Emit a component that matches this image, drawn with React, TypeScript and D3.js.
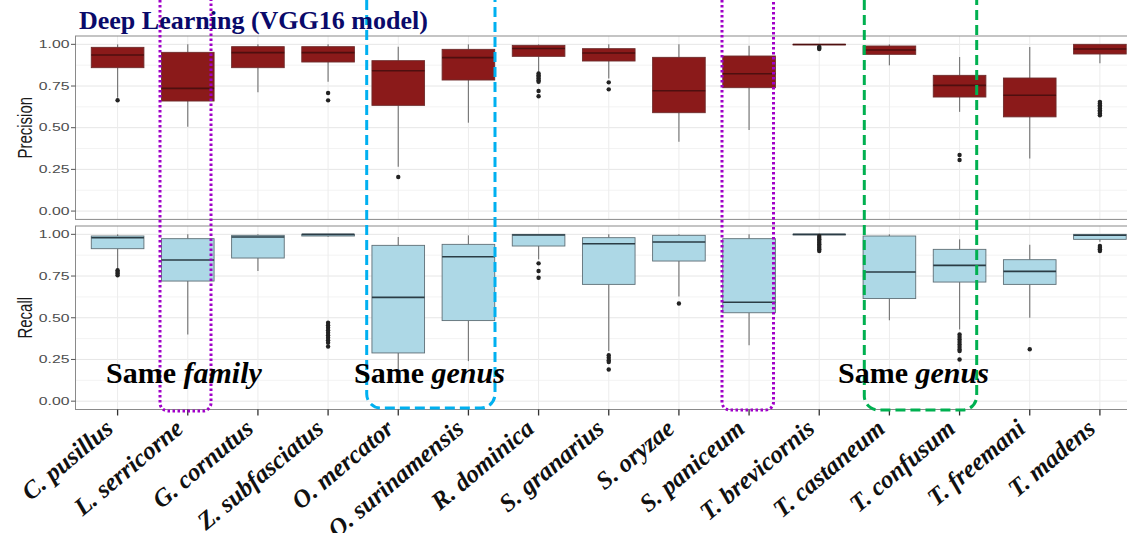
import * as d3 from "d3";

const species = [
  "C. pusillus", "L. serricorne", "G. cornutus", "Z. subfasciatus", "O. mercator",
  "O. surinamensis", "R. dominica", "S. granarius", "S. oryzae", "S. paniceum",
  "T. brevicornis", "T. castaneum", "T. confusum", "T. freemani", "T. madens",
];

// precision boxes (whisker low, q1, median, q3, whisker high)
const precisionLow = [0.68, 0.506, 0.712, 0.776, 0.266, 0.53, 0.834, 0.795, 0.416, 0.486, 0.99, 0.874, 0.595, 0.316, 0.886];
const precisionQ1 = [0.86, 0.66, 0.86, 0.894, 0.634, 0.786, 0.928, 0.9, 0.59, 0.74, 0.997, 0.94, 0.684, 0.565, 0.942];
const precisionMedian = [0.936, 0.736, 0.95, 0.95, 0.842, 0.92, 0.975, 0.948, 0.722, 0.824, 0.999, 0.966, 0.754, 0.695, 0.972];
const precisionQ3 = [0.982, 0.952, 0.986, 0.986, 0.902, 0.97, 0.994, 0.974, 0.922, 0.93, 1.0, 0.99, 0.814, 0.798, 1.0];
const precisionHigh = [1.0, 1.0, 1.0, 1.0, 0.986, 1.0, 1.0, 1.0, 1.0, 0.992, 1.0, 1.0, 0.924, 0.984, 1.0];
const precisionOutliers = [
  [0.665], [], [], [0.708, 0.664], [0.204], [],
  [0.825, 0.815, 0.805, 0.795, 0.785, 0.775, 0.72, 0.689],
  [0.772, 0.73], [], [], [0.985, 0.978, 0.972], [], [0.336, 0.306], [],
  [0.655, 0.645, 0.635, 0.625, 0.615, 0.605, 0.595, 0.585, 0.575],
];

// recall boxes
const recallLow = [0.79, 0.4, 0.78, 0.986, 0.19, 0.24, 0.85, 0.3, 0.627, 0.335, 0.996, 0.485, 0.43, 0.5, 0.955];
const recallQ1 = [0.914, 0.72, 0.858, 0.99, 0.289, 0.483, 0.93, 0.7, 0.84, 0.53, 1.0, 0.615, 0.714, 0.7, 0.97];
const recallMedian = [0.98, 0.846, 0.984, 1.0, 0.622, 0.866, 0.996, 0.944, 0.954, 0.593, 1.0, 0.774, 0.814, 0.778, 0.995];
const recallQ3 = [0.99, 0.974, 0.994, 1.0, 0.934, 0.94, 1.0, 0.98, 0.994, 0.974, 1.0, 0.99, 0.91, 0.848, 1.0];
const recallHigh = [1.0, 1.0, 1.0, 1.0, 0.984, 0.994, 1.0, 1.0, 1.0, 1.0, 1.0, 1.0, 0.97, 0.938, 1.0];
const recallOutliers = [
  [0.785, 0.775, 0.765, 0.755], [], [],
  [0.47, 0.455, 0.44, 0.425, 0.41, 0.395, 0.38, 0.365, 0.35, 0.327],
  [], [], [0.826, 0.78, 0.74],
  [0.275, 0.26, 0.245, 0.235, 0.19], [0.585], [],
  [0.99, 0.98, 0.97, 0.96, 0.95, 0.94, 0.93, 0.92, 0.91, 0.9],
  [], [0.4, 0.385, 0.37, 0.355, 0.34, 0.325, 0.31, 0.3, 0.25], [0.311],
  [0.93, 0.92, 0.91, 0.9],
];

const yTicks = [0, 0.25, 0.5, 0.75, 1];
const yMinor = [0.125, 0.375, 0.625, 0.875];

const x = d3.scalePoint<string>().domain(species).range([75.5, 1142]).padding(0.6);
const boxW = x.step() * 0.75;

function Panel(props: any) {
  const { top, bottom, label, low, q1, med, q3, high, outliers, fill, stroke, medColor } = props;
  const y = d3.scaleLinear().domain([-0.05, 1.05]).range([bottom, top]);
  const [x0, x1] = x.range();
  return (
    <g>
      <rect x={x0} y={top} width={x1 - x0} height={bottom - top} fill="#fff" />
      {yMinor.map((t) => (
        <line key={"m" + t} x1={x0} x2={x1} y1={y(t)} y2={y(t)} stroke="#f3f3f3" strokeWidth={1} />
      ))}
      {yTicks.map((t) => (
        <line key={"g" + t} x1={x0} x2={x1} y1={y(t)} y2={y(t)} stroke="#e6e6e6" strokeWidth={1} />
      ))}
      {species.map((s) => (
        <line key={"v" + s} x1={x(s)} x2={x(s)} y1={top} y2={bottom} stroke="#ececec" strokeWidth={1} />
      ))}
      {species.map((s, i) => {
        const cx = x(s) as number;
        return (
          <g key={s}>
            <line x1={cx} x2={cx} y1={y(high[i])} y2={y(q3[i])} stroke="#7a7a7a" strokeWidth={1.2} />
            <line x1={cx} x2={cx} y1={y(q1[i])} y2={y(low[i])} stroke="#7a7a7a" strokeWidth={1.2} />
            <rect x={cx - boxW / 2} y={y(q3[i])} width={boxW} height={Math.max(y(q1[i]) - y(q3[i]), 0.5)}
              fill={fill} stroke={stroke} strokeWidth={0.9} />
            <line x1={cx - boxW / 2} x2={cx + boxW / 2} y1={y(med[i])} y2={y(med[i])} stroke={medColor} strokeWidth={1.6} />
            {outliers[i].map((o: number, j: number) => (
              <circle key={j} cx={cx} cy={y(o)} r={2.2} fill="#222" />
            ))}
          </g>
        );
      })}
      <rect x={x0} y={top} width={x1 - x0} height={bottom - top} fill="none" stroke="#8a8a8a" strokeWidth={1} />
      {yTicks.map((t) => (
        <g key={"t" + t}>
          <line x1={x0 - 4.5} x2={x0} y1={y(t)} y2={y(t)} stroke="#555" strokeWidth={1} />
          <text transform={`translate(${x0 - 6},${y(t)}) scale(1.5,1)`} dy="0.36em" textAnchor="end"
            fontFamily="Liberation Sans, Arial, sans-serif" fontSize={10.5} fill="#4d4d4d">
            {t.toFixed(2)}
          </text>
        </g>
      ))}
      <text transform={`translate(32,${(top + bottom) / 2}) scale(1.4,1) rotate(-90)`} textAnchor="middle"
        fontFamily="Liberation Sans, Arial, sans-serif" fontSize={15} fill="#1a1a1a">
        {label}
      </text>
    </g>
  );
}

function bracket(xa: number, xb: number, yTop: number, yBot: number, r: number) {
  return `M${xa},${yTop} V${yBot - r} A${r},${r} 0 0 0 ${xa + r},${yBot} H${xb - r} A${r},${r} 0 0 0 ${xb},${yBot - r} V${yTop}`;
}

export default function App() {
  const recallBottom = 409.5;
  return (
    <svg width={1127} height={533} style={{ position: "absolute", left: 0, top: 0, background: "#fff" }}>
      <Panel top={36} bottom={219.4} label="Precision" low={precisionLow} q1={precisionQ1} med={precisionMedian}
        q3={precisionQ3} high={precisionHigh} outliers={precisionOutliers}
        fill="#8b1a1a" stroke="#6e2c2c" medColor="#4e0f0f" />
      <Panel top={226} bottom={recallBottom} label="Recall" low={recallLow} q1={recallQ1} med={recallMedian}
        q3={recallQ3} high={recallHigh} outliers={recallOutliers}
        fill="#add8e6" stroke="#5f6f76" medColor="#2b3c45" />
      {species.map((s) => (
        <g key={"xt" + s}>
          <line x1={x(s)} x2={x(s)} y1={recallBottom} y2={recallBottom + 6} stroke="#333" strokeWidth={1.3} />
          <text transform={`translate(${(x(s) as number) - 3},431) rotate(-40)`} textAnchor="end"
            fontFamily="Liberation Serif, Times New Roman, serif" fontWeight="bold" fontStyle="italic"
            fontSize={25} fill="#111">
            {s}
          </text>
        </g>
      ))}
      <path d={bracket(160, 211, -30, 411, 8)} fill="none" stroke="#a000c8" strokeWidth={3} strokeDasharray="2.5 2.5" />
      <path d={bracket(722, 773.5, -30, 410, 8)} fill="none" stroke="#a000c8" strokeWidth={3} strokeDasharray="2.5 2.5" />
      <path d={bracket(366.7, 495, -30, 408, 14)} fill="none" stroke="#00b0f0" strokeWidth={3} strokeDasharray="10 5" />
      <path d={bracket(864.3, 976.7, -30, 410, 14)} fill="none" stroke="#00b050" strokeWidth={3} strokeDasharray="10 5" />
      <text x={79} y={29} fontFamily="Liberation Serif, Times New Roman, serif" fontWeight="bold" fontSize={26} fill="#0a0a6a">
        Deep Learning (VGG16 model)
      </text>
      <g fontFamily="Liberation Serif, Times New Roman, serif" fontWeight="bold" fontSize={30} fill="#000">
        <text x={106} y={383}>Same <tspan fontStyle="italic">family</tspan></text>
        <text x={354} y={383}>Same <tspan fontStyle="italic">genus</tspan></text>
        <text x={838} y={383}>Same <tspan fontStyle="italic">genus</tspan></text>
      </g>
    </svg>
  );
}
